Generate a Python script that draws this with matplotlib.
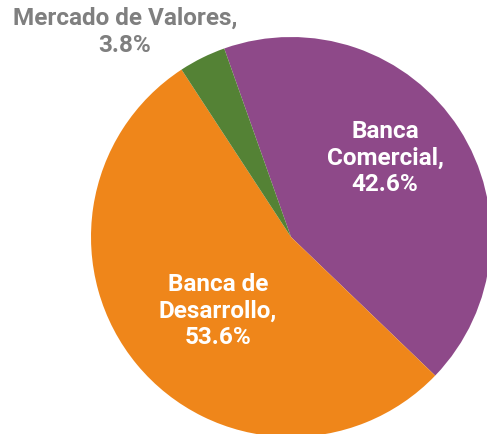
import matplotlib.pyplot as plt

# share of financing by source
labels = ['Banca Comercial', 'Banca de Desarrollo', 'Mercado de Valores']
shares = [42.6, 53.6, 3.8]
colors = ['#8E4989', '#EF861A', '#548235']

fig = plt.figure(figsize=(4.87, 4.34), dpi=100)
ax = fig.add_axes([0, 0, 1, 1])

wedges, _ = ax.pie(shares, colors=colors, startangle=109.5, counterclock=False,
                   center=(291, 197), radius=200, frame=True)
ax.set_xlim(0, 487)
ax.set_ylim(0, 434)
ax.set_aspect('equal')
ax.axis('off')

font = dict(family='Roboto', weight='bold', fontsize=17.5, ha='center', va='center',
            linespacing=1.2)
ax.text(385, 434 - 158, '%s\n%s,\n%.1f%%' % ('Banca', 'Comercial', shares[0]),
        color='white', **font)
ax.text(218, 434 - 311, '%s\n%s,\n%.1f%%' % ('Banca de', 'Desarrollo', shares[1]),
        color='white', **font)
ax.text(125, 434 - 32, '%s,\n%.1f%%' % (labels[2], shares[2]),
        color='#7F7F7F', **font)

fig.savefig('out.png', dpi=100)
